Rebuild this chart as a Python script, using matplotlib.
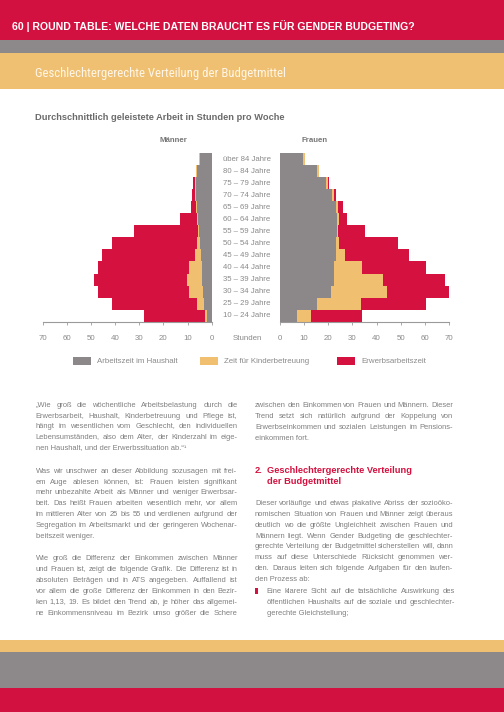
import math
import matplotlib
matplotlib.use("Agg")
import matplotlib.pyplot as plt
from matplotlib.patches import Rectangle
from matplotlib import font_manager

plt.rcParams['font.family'] = ['Liberation Sans', 'DejaVu Sans']

# Daten: Stunden pro Woche, von oben (über 84) nach unten (10-24)
ages = ["über 84 Jahre", "80 – 84 Jahre", "75 – 79 Jahre", "70 – 74 Jahre",
        "65 – 69 Jahre", "60 – 64 Jahre", "55 – 59 Jahre", "50 – 54 Jahre",
        "45 – 49 Jahre", "40 – 44 Jahre", "35 – 39 Jahre", "30 – 34 Jahre",
        "25 – 29 Jahre", "10 – 24 Jahre"]
men_haushalt = [4.8, 5.9, 6.3, 6.5, 6.2, 5.8, 5.4, 5.0, 4.6, 4.1, 4.0, 3.7, 3.2, 1.8]
men_kinder = [0.6, 0.6, 0.5, 0.4, 0.4, 0.4, 0.4, 1.2, 2.4, 5.1, 6.1, 5.8, 3.0, 0.8]
men_erwerb = [0.0, 0.0, 0.8, 1.3, 2.1, 6.8, 26.2, 34.9, 38.3, 37.9, 38.8, 37.4, 35.3, 25.5]
women_haushalt = [9.6, 15.4, 19.0, 21.7, 23.1, 23.5, 23.5, 23.1, 23.0, 22.5, 22.2, 21.1, 15.5, 7.2]
women_kinder = [0.6, 0.6, 0.7, 0.6, 1.0, 1.0, 0.6, 1.3, 3.9, 11.6, 20.6, 23.1, 17.9, 5.5]
women_erwerb = [0.0, 0.0, 0.4, 0.8, 2.1, 3.4, 11.3, 24.6, 26.7, 26.3, 25.6, 25.7, 27.0, 21.4]
xticks = [0, 10, 20, 30, 40, 50, 60, 70]
legend_labels = ["Arbeitszeit im Haushalt", "Zeit für Kinderbetreuung", "Erwerbsarbeitszeit"]

header = "60 | ROUND TABLE: WELCHE DATEN BRAUCHT ES FÜR GENDER BUDGETING?"
section = "Geschlechtergerechte Verteilung der Budgetmittel"
chart_title = "Durchschnittlich geleistete Arbeit in Stunden pro Woche"

left_paras = [
    ["„Wie groß die wöchentliche Arbeitsbelastung durch die",
     "Erwerbsarbeit, Haushalt, Kinderbetreuung und Pflege ist,",
     "hängt im wesentlichen vom Geschlecht, den individuellen",
     "Lebensumständen, also dem Alter, der Kinderzahl im eige-",
     "nen Haushalt, und der Erwerbssituation ab.“¹"],
    ["Was wir unschwer an dieser Abbildung sozusagen mit frei-",
     "em Auge ablesen können, ist: Frauen leisten signifikant",
     "mehr unbezahlte Arbeit als Männer und weniger Erwerbsar-",
     "beit. Das heißt Frauen arbeiten wesentlich mehr, vor allem",
     "im mittleren Alter von 25 bis 55 und verdienen aufgrund der",
     "Segregation im Arbeitsmarkt und der geringeren Wochenar-",
     "beitszeit weniger."],
    ["Wie groß die Differenz der Einkommen zwischen Männer",
     "und Frauen ist, zeigt die folgende Grafik. Die Differenz ist in",
     "absoluten Beträgen und in ATS angegeben. Auffallend ist",
     "vor allem die große Differenz der Einkommen in den Bezir-",
     "ken 1,13, 19. Es bildet den Trend ab, je höher das allgemei-",
     "ne Einkommensniveau im Bezirk umso größer die Schere"],
]
left_starts = [404.7, 470.7, 558.3]
left_last_justified = [False, False, True]

right_para1 = ["zwischen den Einkommen von Frauen und Männern. Dieser",
               "Trend setzt sich natürlich aufgrund der Koppelung von",
               "Erwerbseinkommen und sozialen Leistungen im Pensions-",
               "einkommen fort."]
right_heading = ["Geschlechtergerechte Verteilung", "der Budgetmittel"]
right_para2 = ["Dieser vorläufige und etwas plakative Abriss der sozioöko-",
               "nomischen Situation von Frauen und Männer zeigt überaus",
               "deutlich wo die größte Ungleichheit zwischen Frauen und",
               "Männern liegt. Wenn Gender Budgeting die geschlechter-",
               "gerechte Verteilung der Budgetmittel sicherstellen will, dann",
               "muss auf diese Unterschiede Rücksicht genommen wer-",
               "den. Daraus leiten sich folgende Aufgaben für den laufen-",
               "den Prozess ab:"]
right_bullet = ["Eine klarere Sicht auf die tatsächliche Auswirkung des",
                "öffentlichen Haushalts auf die soziale und geschlechter-",
                "gerechte Gleichstellung;"]

C_RED = '#D4113F'
C_GRAY = '#8C8889'
C_ORANGE = '#F0C070'
C_TEXT = '#7f7f7f'
C_TICK = '#8a8a8a'
LINE = 10.87
BODY = 5.4

fig = plt.figure(figsize=(5.04, 7.12), dpi=100)
page = fig.add_axes([0, 0, 1, 1])
page.set_xlim(0, 504)
page.set_ylim(712, 0)
page.axis('off')
renderer = fig.canvas.get_renderer()

# Kopf- und Fussbänder
for y0, y1, c in [(0, 40, '#D31141'), (40, 53.3, '#8D898A'), (53.3, 89.3, '#EFC071'),
                  (640, 652, '#EFC071'), (652, 688.3, '#8D898A'), (688.3, 712, '#D31141')]:
    page.add_patch(Rectangle((0, y0), 504, y1 - y0, color=c, lw=0))


def fit(t, target):
    w = t.get_window_extent(renderer).width
    t.set_fontsize(t.get_fontsize() * target / w)


narrow = dict(family=['Liberation Sans'])
for fam in ['Liberation Sans Narrow', 'Roboto Condensed', 'Open Sans Condensed']:
    try:
        font_manager.findfont(fam, fallback_to_default=False)
        narrow = dict(family=[fam])
        break
    except Exception:
        pass
else:
    try:
        fp = font_manager.FontProperties(family='DejaVu Sans', stretch='condensed')
        if 'Condensed' in font_manager.findfont(fp, fallback_to_default=False):
            narrow = dict(family=['DejaVu Sans'], fontstretch='condensed')
    except Exception:
        pass

t = page.text(12, 26, header, color='white', fontweight='bold', fontsize=7, va='center')
fit(t, 406)
t = page.text(35, 73, section, color='#FFF6E8', fontsize=9, va='center', **narrow)
fit(t, 250)
t = page.text(35, 117, chart_title, color='#6a6a6a', fontweight='bold', fontsize=6, va='center')
fit(t, 254)


def snap_y(obj, b0):
    # Grundlinie aller Wörter einer Zeile auf dieselbe Pixelzeile legen
    w, h, d = renderer.get_text_width_height_descent(obj.get_text(), obj.get_fontproperties(), False)
    obj.set_y(b0 - math.floor(h - d) + math.floor(h) - d)


def put_line(x0, x1, yc, text, justify, **kw):
    b0 = round(yc + 2.0)
    words = text.split(' ') if justify else [text]
    objs = [page.text(x0, b0, w, va='baseline', **kw) for w in words]
    for o in objs:
        snap_y(o, b0)
    if not justify:
        return
    widths = [o.get_window_extent(renderer).width for o in objs]
    gap = (x1 - x0 - sum(widths)) / (len(words) - 1)
    x = x0
    for o, w in zip(objs, widths):
        o.set_x(x)
        x += w + gap


def put_para(lines, x0, x1, y0, last_just=False, **kw):
    for i, ln in enumerate(lines):
        last = i == len(lines) - 1
        put_line(x0, x1, y0 + i * LINE, ln, (not last) or last_just, **kw)


body = dict(fontsize=BODY, color=C_TEXT)
for para, y0, lj in zip(left_paras, left_starts, left_last_justified):
    put_para(para, 35.5, 237.5, y0, lj, **body)

put_para(right_para1, 255, 453, 405, **body)
put_para(right_para2, 255, 453, 503, **body)
put_para(right_bullet, 266.7, 455, 591, **body)
page.add_patch(Rectangle((255, 587.5), 2.6, 6, color=C_RED, lw=0))

num = page.text(255, 473, "2.", color=C_RED, fontweight='bold', fontsize=7.5, va='baseline')
t = page.text(266.7, 473, right_heading[0], color=C_RED, fontweight='bold',
              fontsize=7.5, va='baseline')
fit(t, 145)
hs = t.get_fontsize()
num.set_fontsize(hs)
page.text(266.7, 484, right_heading[1], color=C_RED, fontweight='bold',
          fontsize=hs, va='baseline')

# Diagramm
pos_y = (712 - 321.7) / 712
h = 168.7 / 712
ax_m = fig.add_axes([42.7 / 504, pos_y, 169 / 504, h])
ax_w = fig.add_axes([280 / 504, pos_y, 169 / 504, h])
rows = list(range(len(ages)))

for ax, hh, kk, ee in [(ax_m, men_haushalt, men_kinder, men_erwerb),
                       (ax_w, women_haushalt, women_kinder, women_erwerb)]:
    cum = [a + b for a, b in zip(hh, kk)]
    ax.barh(rows, hh, height=1.0, color=C_GRAY, lw=0)
    ax.barh(rows, kk, left=hh, height=1.0, color=C_ORANGE, lw=0)
    ax.barh(rows, ee, left=cum, height=1.0, color=C_RED, lw=0)
    ax.set_ylim(len(ages) - 0.5, -0.5)
    ax.set_xticks(xticks)
    ax.set_yticks([])
    for s in ['top', 'left', 'right']:
        ax.spines[s].set_visible(False)
    ax.spines['bottom'].set_color('#9a9a9a')
    ax.spines['bottom'].set_linewidth(0.8)
    ax.tick_params(axis='x', direction='out', length=2.5, width=0.6, color='#9a9a9a',
                   labelsize=5.7, labelcolor=C_TICK, pad=7)
    ax.patch.set_alpha(0)

ax_m.set_xlim(70, 0)
ax_w.set_xlim(0, 70)

for i, a in enumerate(ages):
    ax_m.text(1.065, i, a, transform=ax_m.get_yaxis_transform(), ha='left', va='center',
              fontsize=5.6, color=C_TICK)

page.text(247, 338.3, "Stunden", ha='center', va='center', fontsize=5.7, color=C_TICK)
page.text(173, 141, "Männer", ha='center', va='center', fontsize=5.7, color='#777777',
          fontweight='bold')
page.text(315, 141, "Frauen", ha='center', va='center', fontsize=5.7, color='#777777',
          fontweight='bold')

# Legende
for x0, c, lab, xt in [(73, C_GRAY, legend_labels[0], 96.7),
                       (200, C_ORANGE, legend_labels[1], 224),
                       (337, C_RED, legend_labels[2], 361)]:
    page.add_patch(Rectangle((x0, 357.3), 18, 8, color=c, lw=0))
    page.text(xt, 361.3, lab, va='center', fontsize=5.7, color=C_TICK)

fig.savefig("out.png", dpi=100)
